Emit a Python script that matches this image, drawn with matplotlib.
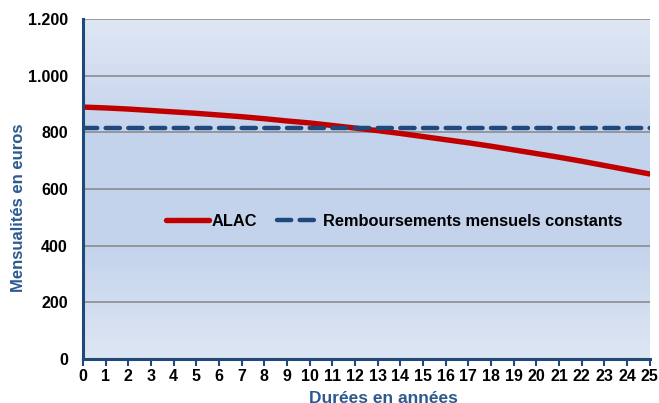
import numpy as np
import matplotlib.pyplot as plt
from matplotlib.colors import LinearSegmentedColormap
from matplotlib.ticker import FuncFormatter

plt.rcParams['font.family'] = ['Liberation Sans', 'DejaVu Sans']

# Data
years = list(range(0, 26))
alac = [889, 886, 882, 877, 872, 867, 861, 855, 848, 840, 833, 824, 815,
        806, 796, 785, 774, 763, 751, 738, 725, 712, 698, 683, 668, 653]
constant = [815] * 26
labels = ['ALAC', 'Remboursements mensuels constants']

blue = '#1f497d'
red = '#c00000'
label_blue = '#2c5a8f'

fig = plt.figure(figsize=(6.59, 4.03), dpi=100)
ax = fig.add_axes([0.126, 0.109, 0.860, 0.844])

# background gradient (light top and bottom, darker middle)
cmap = LinearSegmentedColormap.from_list(
    'bg', ['#dde6f3', '#c4d3ec', '#c4d3ec', '#dfe7f4'])
grad = np.linspace(0, 1, 256).reshape(-1, 1)
ax.imshow(grad, aspect='auto', cmap=cmap, extent=[0, 25, 1200, 0],
          zorder=0)

for v in range(200, 1201, 200):
    ax.axhline(v, color='#8c8c8c', lw=1.2, zorder=1)

ax.plot(years, alac, color=red, lw=3.9, solid_capstyle='round',
        label=labels[0], zorder=3)
ax.plot(years, constant, color=blue, lw=3.2, linestyle=(0, (3.2, 1.9)),
        dash_capstyle='round', label=labels[1], zorder=3)

ax.set_xlim(0, 25)
ax.set_ylim(0, 1200)
ax.set_xticks(years)
ax.set_yticks(range(0, 1201, 200))
ax.yaxis.set_major_formatter(
    FuncFormatter(lambda v, p: f'{int(v):,}'.replace(',', '.')))

for s in ['top', 'right']:
    ax.spines[s].set_visible(False)
for s in ['left', 'bottom']:
    ax.spines[s].set_color(blue)
    ax.spines[s].set_linewidth(2.2)
    ax.spines[s].set_zorder(4)

ax.tick_params(axis='x', direction='out', length=5, width=1.5, color=blue,
               labelsize=11.5, pad=2)
ax.tick_params(axis='y', length=0, labelsize=11.5, pad=11)
for lab in ax.get_xticklabels() + ax.get_yticklabels():
    lab.set_fontweight('bold')

fig.text(19 / 659, 1 - 208 / 403, 'Mensualités en euros', rotation=90,
         ha='center', va='center', color=label_blue, fontsize=12,
         fontweight='bold')
fig.text(383 / 659, 0.0, 'Durées en années', ha='center', va='baseline',
         color=label_blue, fontsize=12.5, fontweight='bold')

leg = ax.legend(loc='center', bbox_to_anchor=(0.549, 0.405), ncol=2,
                frameon=False, fontsize=11.8, handlelength=2.6,
                handletextpad=0.2, columnspacing=1.2)
for t in leg.get_texts():
    t.set_fontweight('bold')

fig.savefig('out.png', dpi=100)
